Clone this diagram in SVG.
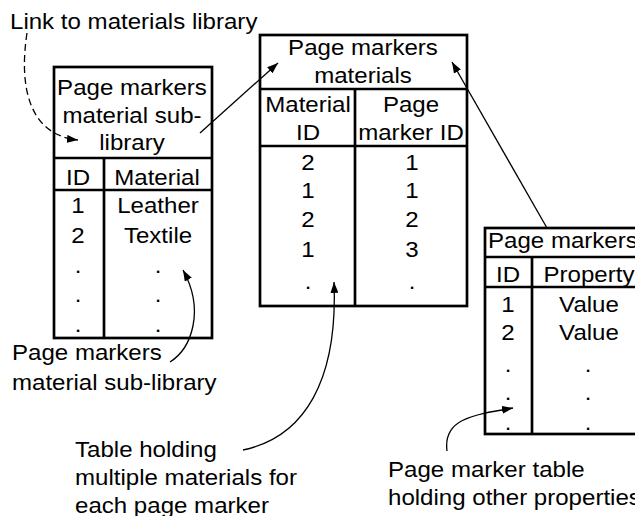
<svg xmlns="http://www.w3.org/2000/svg" width="635" height="516" viewBox="0 0 635 516">
  <style>
    .t { font-family: "Liberation Sans", Arial, Helvetica, sans-serif; font-size: 21.5px; fill: #000; }
    .c { text-anchor: middle; }
    .box { fill: none; stroke: #000; stroke-width: 2.7; }
    .rule { stroke: #000; stroke-width: 2.7; }
    .link { fill: none; stroke: #000; stroke-width: 1.3; marker-end: url(#arrow); }
    .dash { stroke-dasharray: 7 4; }
  </style>
  <defs>
    <marker id="arrow" markerUnits="userSpaceOnUse" markerWidth="11" markerHeight="8" refX="11" refY="4" orient="auto">
      <path d="M0,0 L11,4 L0,8 z" fill="#000"/>
    </marker>
  </defs>
  <rect width="635" height="516" fill="#fff"/>

  <!-- caption at top -->
  <g id="label-link">
    <text class="t" transform="translate(10,29) scale(1.12 1)">Link to materials library</text>
  </g>

  <!-- material sub-library table -->
  <g id="sub-library">
    <rect class="box" x="54" y="67" width="158" height="271"/>
    <line class="rule" x1="54" y1="158" x2="212" y2="158"/>
    <line class="rule" x1="54" y1="190" x2="212" y2="190"/>
    <line class="rule" x1="104" y1="158" x2="104" y2="338"/>
    <text class="t c" transform="translate(132,95) scale(1.12 1)">Page markers</text>
    <text class="t c" transform="translate(132,123) scale(1.12 1)">material sub-</text>
    <text class="t c" transform="translate(132,150) scale(1.12 1)">library</text>
    <text class="t c" transform="translate(78,185) scale(1.12 1)">ID</text>
    <text class="t c" transform="translate(157,185) scale(1.12 1)">Material</text>
    <text class="t c" transform="translate(78,213) scale(1.12 1)">1</text>
    <text class="t c" transform="translate(158,213) scale(1.12 1)">Leather</text>
    <text class="t c" transform="translate(78,243) scale(1.12 1)">2</text>
    <text class="t c" transform="translate(158,243) scale(1.12 1)">Textile</text>
    <text class="t c" transform="translate(78,273) scale(1.12 1)">.</text>
    <text class="t c" transform="translate(158,273) scale(1.12 1)">.</text>
    <text class="t c" transform="translate(78,302) scale(1.12 1)">.</text>
    <text class="t c" transform="translate(158,302) scale(1.12 1)">.</text>
    <text class="t c" transform="translate(78,332) scale(1.12 1)">.</text>
    <text class="t c" transform="translate(158,332) scale(1.12 1)">.</text>
  </g>

  <!-- page markers materials table -->
  <g id="materials">
    <rect class="box" x="260" y="35" width="207" height="271"/>
    <line class="rule" x1="260" y1="89" x2="467" y2="89"/>
    <line class="rule" x1="260" y1="146" x2="467" y2="146"/>
    <line class="rule" x1="355" y1="89" x2="355" y2="306"/>
    <text class="t c" transform="translate(363,55) scale(1.12 1)">Page markers</text>
    <text class="t c" transform="translate(363,83) scale(1.12 1)">materials</text>
    <text class="t c" transform="translate(308,112) scale(1.12 1)">Material</text>
    <text class="t c" transform="translate(308,140) scale(1.12 1)">ID</text>
    <text class="t c" transform="translate(411,112) scale(1.12 1)">Page</text>
    <text class="t c" transform="translate(411,140) scale(1.12 1)">marker ID</text>
    <text class="t c" transform="translate(308,170) scale(1.12 1)">2</text>
    <text class="t c" transform="translate(412,170) scale(1.12 1)">1</text>
    <text class="t c" transform="translate(308,198) scale(1.12 1)">1</text>
    <text class="t c" transform="translate(412,198) scale(1.12 1)">1</text>
    <text class="t c" transform="translate(308,227) scale(1.12 1)">2</text>
    <text class="t c" transform="translate(412,227) scale(1.12 1)">2</text>
    <text class="t c" transform="translate(308,257) scale(1.12 1)">1</text>
    <text class="t c" transform="translate(412,257) scale(1.12 1)">3</text>
    <text class="t c" transform="translate(308,289) scale(1.12 1)">.</text>
    <text class="t c" transform="translate(412,289) scale(1.12 1)">.</text>
  </g>

  <!-- page markers property table -->
  <g id="page-markers">
    <rect class="box" x="485" y="228" width="170" height="206"/>
    <line class="rule" x1="485" y1="257" x2="655" y2="257"/>
    <line class="rule" x1="485" y1="287" x2="655" y2="287"/>
    <line class="rule" x1="532" y1="257" x2="532" y2="434"/>
    <text class="t" transform="translate(488,248) scale(1.12 1)">Page markers</text>
    <text class="t c" transform="translate(508,282) scale(1.12 1)">ID</text>
    <text class="t c" transform="translate(589,282) scale(1.12 1)">Property</text>
    <text class="t c" transform="translate(508,312) scale(1.12 1)">1</text>
    <text class="t c" transform="translate(589,312) scale(1.12 1)">Value</text>
    <text class="t c" transform="translate(508,340) scale(1.12 1)">2</text>
    <text class="t c" transform="translate(589,340) scale(1.12 1)">Value</text>
    <text class="t c" transform="translate(508,372) scale(1.12 1)">.</text>
    <text class="t c" transform="translate(588,372) scale(1.12 1)">.</text>
    <text class="t c" transform="translate(508,400) scale(1.12 1)">.</text>
    <text class="t c" transform="translate(588,400) scale(1.12 1)">.</text>
    <text class="t c" transform="translate(508,430) scale(1.12 1)">.</text>
    <text class="t c" transform="translate(588,430) scale(1.12 1)">.</text>
  </g>

  <!-- explanatory labels -->
  <g id="label-sub-library">
    <text class="t" transform="translate(12,360) scale(1.12 1)">Page markers</text>
    <text class="t" transform="translate(12,390) scale(1.12 1)">material sub-library</text>
  </g>
  <g id="label-materials">
    <text class="t" transform="translate(75,457) scale(1.12 1)">Table holding</text>
    <text class="t" transform="translate(75,485) scale(1.12 1)">multiple materials for</text>
    <text class="t" transform="translate(75,513) scale(1.12 1)">each page marker</text>
  </g>
  <g id="label-page-markers">
    <text class="t" transform="translate(388,477) scale(1.12 1)">Page marker table</text>
    <text class="t" transform="translate(388,505) scale(1.12 1)">holding other properties</text>
  </g>

  <!-- connectors -->
  <g id="connectors">
    <path class="link dash" d="M27,33 C19,85 28,135 78,140"/>
    <path class="link" d="M200,133 L278,63"/>
    <path class="link" d="M547,228 L452,62"/>
    <path class="link" d="M170,362 C192,348 205,310 183,270"/>
    <path class="link" d="M243,450 C305,437 338,380 334,282"/>
    <path class="link" d="M447,451 C443,420 470,415 513,408"/>
  </g>
</svg>
